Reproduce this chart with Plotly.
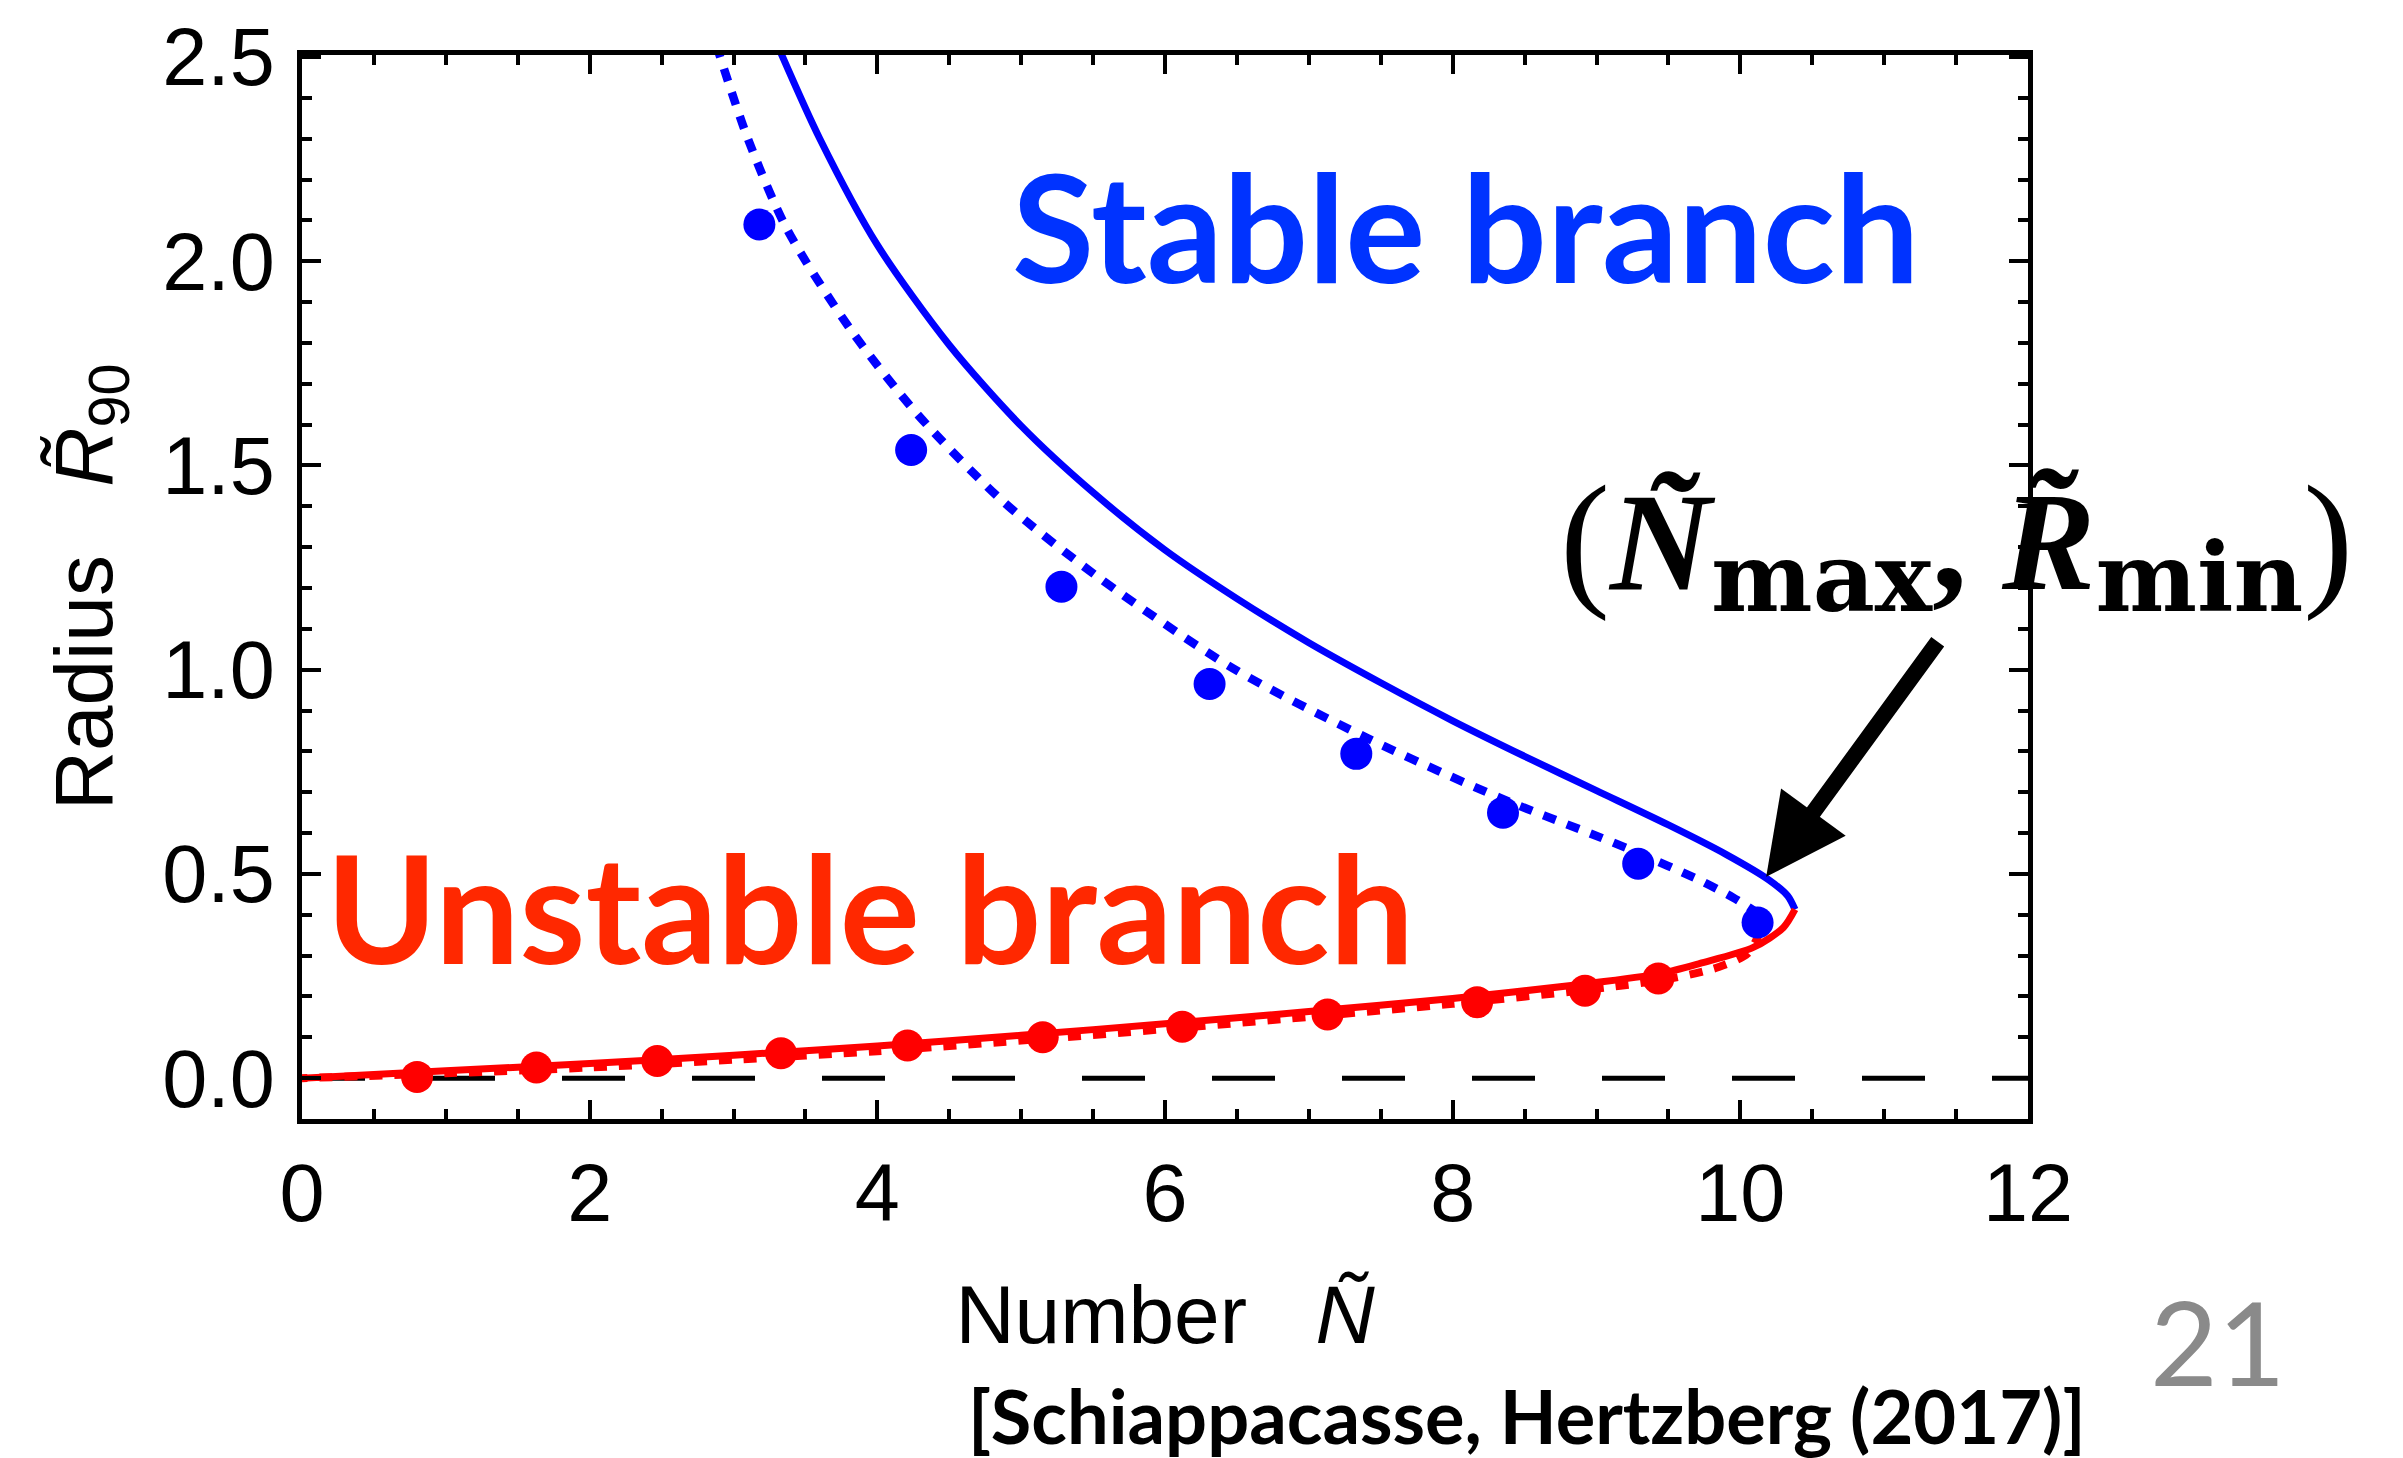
import plotly.graph_objects as go

# ---- data ----
blue_solid_x = [3.28, 3.60, 4.00, 4.50, 5.00, 5.50, 6.00, 6.50, 7.00, 7.50, 8.00, 8.50, 9.00, 9.50, 9.90, 10.20, 10.33, 10.38]
blue_solid_y = [2.55, 2.30, 2.04, 1.795, 1.597, 1.434, 1.293, 1.174, 1.066, 0.968, 0.875, 0.788, 0.704, 0.62, 0.548, 0.485, 0.446, 0.413]

red_solid_x = [10.38, 10.30, 10.09, 9.72, 9.44, 8.9, 8.0, 7.0, 6.0, 5.0, 4.0, 3.0, 2.0, 1.0, 0.0]
red_solid_y = [0.413, 0.369, 0.32, 0.281, 0.256, 0.23, 0.195, 0.163, 0.133, 0.105, 0.079, 0.056, 0.036, 0.018, 0.0]

blue_dotted_x = [2.88, 3.1, 3.37, 3.82, 4.28, 4.88, 5.55, 6.47, 7.41, 8.33, 9.03, 9.26, 9.72, 9.95, 10.14]
blue_dotted_y = [2.53, 2.30, 2.08, 1.83, 1.625, 1.41, 1.223, 1.004, 0.832, 0.686, 0.589, 0.556, 0.484, 0.442, 0.40]

red_dotted_x = [10.14, 10.05, 9.85, 9.5, 8.9, 8.0, 7.0, 6.0, 5.0, 4.0, 3.0, 2.0, 1.0, 0.0]
red_dotted_y = [0.36, 0.305, 0.272, 0.243, 0.215, 0.182, 0.15, 0.12, 0.092, 0.066, 0.045, 0.026, 0.012, 0.0]

blue_dots_x = [3.18, 4.235, 5.28, 6.31, 7.33, 8.35, 9.29, 10.12]
blue_dots_y = [2.09, 1.538, 1.203, 0.965, 0.794, 0.65, 0.525, 0.381]

red_dots_x = [0.80, 1.63, 2.47, 3.33, 4.21, 5.15, 6.12, 7.13, 8.17, 8.92, 9.43]
red_dots_y = [0.003, 0.026, 0.042, 0.061, 0.08, 0.10, 0.126, 0.156, 0.186, 0.214, 0.244]

zero_line_x = [0, 12]
zero_line_y = [0, 0]

x_ticks = [0, 2, 4, 6, 8, 10, 12]
y_ticks = [0.0, 0.5, 1.0, 1.5, 2.0, 2.5]

BLUE = "#0000FF"
RED = "#FF0000"

fig = go.Figure()

fig.add_trace(go.Scatter(x=zero_line_x, y=zero_line_y, mode="lines",
                         line=dict(color="black", width=5, dash="63px,67px"),
                         showlegend=False, hoverinfo="skip"))
fig.add_trace(go.Scatter(x=blue_dotted_x, y=blue_dotted_y, mode="lines",
                         line=dict(color=BLUE, width=8.5, dash="13px,12px", shape="spline", smoothing=0.8),
                         showlegend=False))
fig.add_trace(go.Scatter(x=red_dotted_x, y=red_dotted_y, mode="lines",
                         line=dict(color=RED, width=8, dash="13px,12px", shape="spline", smoothing=0.8),
                         showlegend=False))
fig.add_trace(go.Scatter(x=blue_solid_x, y=blue_solid_y, mode="lines",
                         line=dict(color=BLUE, width=7, shape="spline", smoothing=0.8),
                         showlegend=False))
fig.add_trace(go.Scatter(x=red_solid_x, y=red_solid_y, mode="lines",
                         line=dict(color=RED, width=7, shape="spline", smoothing=0.8),
                         showlegend=False))
fig.add_trace(go.Scatter(x=blue_dots_x, y=blue_dots_y, mode="markers",
                         marker=dict(color=BLUE, size=32, line=dict(width=0)),
                         showlegend=False))
fig.add_trace(go.Scatter(x=red_dots_x, y=red_dots_y, mode="markers",
                         marker=dict(color=RED, size=32, line=dict(width=0)),
                         showlegend=False))

W, H = 2403, 1458
L, R, T, B = 302, 2028, 52, 1119
PW, PH = R - L, B - T

def px(xp):
    return (xp - L) / PW

def py(yp):
    return (B - yp) / PH

tickfont = dict(family="Liberation Sans, Arial, sans-serif", size=81, color="black")

fig.update_layout(
    width=W, height=H,
    margin=dict(l=L, r=W - R, t=T, b=H - B, pad=0),
    paper_bgcolor="white", plot_bgcolor="white",
    showlegend=False,
    xaxis=dict(
        range=[0, 12], tickvals=x_ticks, ticktext=[str(v) for v in x_ticks],
        ticks="inside", ticklen=19, tickwidth=4, tickcolor="black",
        minor=dict(dtick=0.5, tick0=0, ticks="inside", ticklen=10, tickwidth=4, tickcolor="black"),
        showline=True, linewidth=5, linecolor="black", mirror="ticks",
        showgrid=False, zeroline=False, tickfont=tickfont,
        ticklabelstandoff=0,
        title=dict(text="Number\u00a0\u00a0\u00a0<i>\u00d1</i>",
                   font=dict(family="Liberation Sans, Arial, sans-serif", size=82, color="black"),
                   standoff=50),
    ),
    yaxis=dict(
        range=[-0.1, 2.505], tickvals=y_ticks, ticktext=[f"{v:.1f}" for v in y_ticks],
        ticks="inside", ticklen=19, tickwidth=4, tickcolor="black",
        minor=dict(dtick=0.1, tick0=0, ticks="inside", ticklen=10, tickwidth=4, tickcolor="black"),
        showline=True, linewidth=5, linecolor="black", mirror="ticks",
        showgrid=False, zeroline=False, tickfont=tickfont,
        ticklabelstandoff=6,
        title=dict(text="Radius\u00a0\u00a0\u00a0<i>R\u0303</i><sub>90</sub>",
                   font=dict(family="Liberation Sans, Arial, sans-serif", size=82, color="black"),
                   standoff=24),
    ),
)

SUB = "font-family:DejaVu Serif;font-size:96px;baseline-shift:-22px"
label_text = ("<span style='font-size:150px'>(</span>"
              "<b><i>\u00d1</i></b>"
              f"<span style='{SUB}'><b>max</b></span>"
              "<b>,</b>\u00a0"
              "<b><i>R\u0303</i></b>"
              f"<span style='{SUB}'><b>min</b></span>"
              "<span style='font-size:150px'>)</span>")

annotations = [
    dict(text="<b>Stable branch</b>", x=px(1466), y=py(222), xref="paper", yref="paper",
         xanchor="center", yanchor="middle", showarrow=False,
         font=dict(family="Lato, sans-serif", size=150, color="#0033FF")),
    dict(text="<b>Unstable branch</b>", x=px(870), y=py(905), xref="paper", yref="paper",
         xanchor="center", yanchor="middle", showarrow=False,
         font=dict(family="Lato, sans-serif", size=150, color="#FF2800")),
    dict(text=label_text,
         x=px(1956), y=py(543), xref="paper", yref="paper",
         xanchor="center", yanchor="middle", showarrow=False,
         font=dict(family="Liberation Serif, Times New Roman, serif", size=140, color="black")),
    dict(text="", x=10.18, y=0.493, ax=11.38, ay=1.072, xref="x", yref="y", axref="x", ayref="y",
         showarrow=True, arrowhead=2, arrowsize=1.0, arrowwidth=16, arrowcolor="black", standoff=0),
    dict(text="<b>[Schiappacasse, Hertzberg (2017)]</b>", x=px(1527), y=py(1416), xref="paper", yref="paper",
         xanchor="center", yanchor="middle", showarrow=False,
         font=dict(family="Lato, sans-serif", size=74, color="black")),
    dict(text="21", x=px(2218), y=py(1342), xref="paper", yref="paper",
         xanchor="center", yanchor="middle", showarrow=False,
         font=dict(family="Lato, sans-serif", size=117, color="#8A8A8A")),
]
fig.update_layout(annotations=annotations)

fig.write_html("out.html", config={"displayModeBar": False},
               post_script="document.body.style.margin='0';document.body.style.overflow='hidden';")
